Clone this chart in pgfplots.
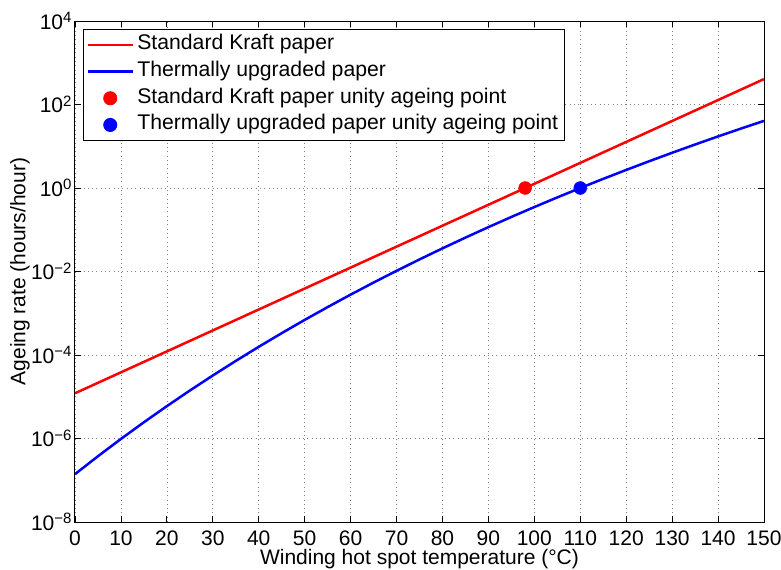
\documentclass[border=0pt]{standalone}
\usepackage{pgfplots}
\pgfplotsset{compat=1.18}
\usepackage{fontspec}
\setmainfont{Liberation Sans}

\newcommand{\tenpow}[1]{10\raisebox{6.5pt}{\fontsize{15}{15}\selectfont #1}}

\begin{document}
\begin{tikzpicture}
\begin{axis}[
    scale only axis,
    width=689pt, height=501pt,
    xmin=0, xmax=150,
    ymode=log, ymin=1e-8, ymax=1e4,
    xtick={0,10,...,150},
    ytick={1e-8,1e-6,1e-4,1e-2,1e0,1e2,1e4},
    yticklabels={\tenpow{−8},\tenpow{−6},\tenpow{−4},\tenpow{−2},\tenpow{0},\tenpow{2},\tenpow{4}},
    yminorticks=false,
    tick align=inside,
    major tick length=6pt,
    every tick/.style={black, line width=0.8pt},
    axis line style={black, line width=1pt},
    grid=major,
    major grid style={gray, line width=0.7pt, dash pattern=on 1pt off 3.3pt},
    ticklabel style={font=\fontsize{21}{24}\selectfont},
    /pgf/number format/assume math mode=true,
    xticklabel style={anchor=base, yshift=-23pt},
    xlabel={Winding hot spot temperature (°C)},
    ylabel={Ageing rate (hours/hour)},
    every axis x label/.style={at={(rel axis cs:0.5,0)}, anchor=base, yshift=-42.5pt, font=\fontsize{21}{24}\selectfont},
    every axis y label/.style={at={(rel axis cs:0,0.5)}, anchor=center, rotate=90, yshift=55pt, font=\fontsize{21}{24}\selectfont},
    legend cell align=left,
    legend style={at={(0,1)}, anchor=north west, xshift=8pt, yshift=-8pt,
        draw=black, line width=1pt, fill=white,
        font=\fontsize{21.2}{24}\selectfont,
        nodes={text height=15pt, text depth=5pt, inner sep=3.35pt}},
    legend image code/.code={\draw[mark repeat=2,mark phase=2,#1] plot coordinates {(3pt,0pt) (25.5pt,0pt) (48pt,0pt)};},
]
\addplot[red, line width=2.5pt] coordinates {
    (0,1.2111e-5) (10,3.845e-5) (20,1.2207e-4) (30,3.8754e-4) (40,1.2305e-3)
    (50,3.9063e-3) (60,1.2402e-2) (70,3.9373e-2) (80,0.125) (90,0.39685)
    (98,1) (100,1.2599) (110,4) (120,12.699) (130,40.317) (140,128) (150,406.37)
};
\addlegendentry{Standard Kraft paper}
\addplot[blue, line width=2.5pt] coordinates {
    (0,1.401e-7) (5,3.765e-7) (10,9.767e-7) (15,2.451e-6) (20,5.962e-6)
    (25,1.408e-5) (30,3.230e-5) (35,7.215e-5) (40,1.571e-4) (45,3.337e-4)
    (50,6.926e-4) (55,1.405e-3) (60,2.793e-3) (65,5.439e-3) (70,1.0387e-2)
    (75,1.9468e-2) (80,3.585e-2) (85,6.490e-2) (90,0.11558) (95,0.20263)
    (100,0.34994) (105,0.5957) (110,1) (115,1.6565) (120,2.7089)
    (125,4.3756) (130,6.984) (135,11.021) (140,17.200) (145,26.557) (150,40.59)
};
\addlegendentry{Thermally upgraded paper}
\addplot[only marks, mark=*, mark size=6.5pt, color=red] coordinates {(98,1)};
\addlegendentry{Standard Kraft paper unity ageing point}
\addplot[only marks, mark=*, mark size=6.5pt, color=blue] coordinates {(110,1)};
\addlegendentry{Thermally upgraded paper unity ageing point}
\end{axis}
\pgfresetboundingbox
\path (current axis.south west) ++(-75pt,-47pt) coordinate (bl);
\path (current axis.north east) ++(17pt,21pt) coordinate (tr);
\path[use as bounding box] (bl) rectangle (tr);
\end{tikzpicture}
\end{document}
